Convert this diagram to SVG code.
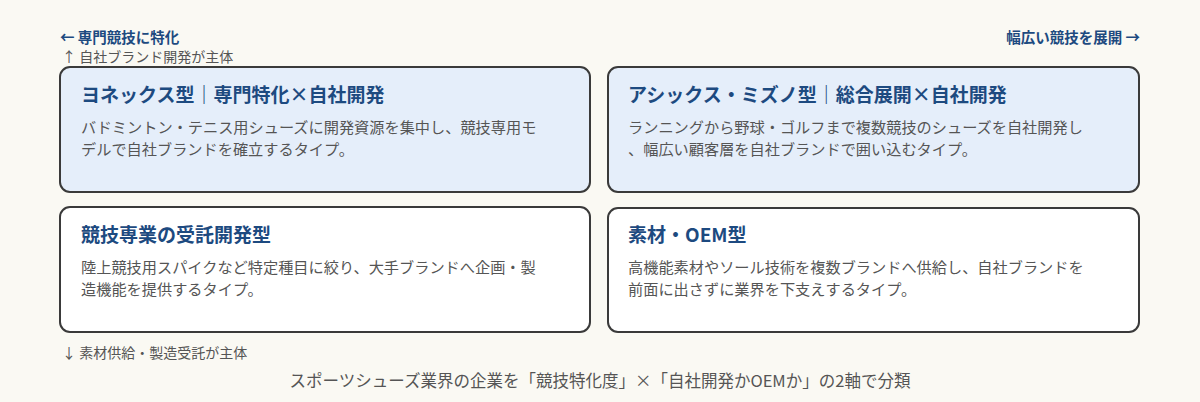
<svg xmlns="http://www.w3.org/2000/svg" width="1200" height="402" viewBox="0 0 1200 402">
<style>
text{font-family:"Noto Sans CJK JP","Noto Sans",sans-serif}
.box{stroke:#3a3a3a;stroke-width:2}
.blue{fill:#e5eefa}
.white{fill:#ffffff}
.t{font-size:19px;font-weight:700;fill:#1d4a80}
.d{font-size:15.2px;fill:#555}
.ax{font-size:14px;fill:#555}
.axb{font-size:14.5px;font-weight:700;fill:#1d4a80}
</style>
<rect width="1200" height="402" fill="#faf9f3"/>
<g id="axes">
<text class="axb" x="60" y="43">← 専門競技に特化</text>
<text class="axb" x="1140" y="43" text-anchor="end">幅広い競技を展開 →</text>
<text class="ax" x="62" y="62">↑ 自社ブランド開発が主体</text>
<text class="ax" x="62" y="358">↓ 素材供給・製造受託が主体</text>
</g>
<g id="n1"><rect class="box blue" x="60" y="67" width="530" height="125" rx="10"/>
<text class="t" x="81" y="102">ヨネックス型｜専門特化×自社開発</text>
<text class="d" x="81" y="133">バドミントン・テニス用シューズに開発資源を集中し、競技専用モ</text>
<text class="d" x="81" y="155">デルで自社ブランドを確立するタイプ。</text></g>
<g id="n2"><rect class="box blue" x="608" y="67" width="531" height="125" rx="10"/>
<text class="t" x="628" y="102">アシックス・ミズノ型｜総合展開×自社開発</text>
<text class="d" x="628" y="133">ランニングから野球・ゴルフまで複数競技のシューズを自社開発し</text>
<text class="d" x="628" y="155">、幅広い顧客層を自社ブランドで囲い込むタイプ。</text></g>
<g id="n3"><rect class="box white" x="60" y="207" width="530" height="125" rx="10"/>
<text class="t" x="81" y="242">競技専業の受託開発型</text>
<text class="d" x="81" y="273">陸上競技用スパイクなど特定種目に絞り、大手ブランドへ企画・製</text>
<text class="d" x="81" y="295">造機能を提供するタイプ。</text></g>
<g id="n4"><rect class="box white" x="608" y="208" width="531" height="124" rx="10"/>
<text class="t" x="628" y="242">素材・OEM型</text>
<text class="d" x="628" y="273">高機能素材やソール技術を複数ブランドへ供給し、自社ブランドを</text>
<text class="d" x="628" y="295">前面に出さずに業界を下支えするタイプ。</text></g>
<g id="connectors"></g>
<text x="600" y="387" text-anchor="middle" font-size="16.5" fill="#555">スポーツシューズ業界の企業を「競技特化度」×「自社開発かOEMか」の2軸で分類</text>
</svg>
